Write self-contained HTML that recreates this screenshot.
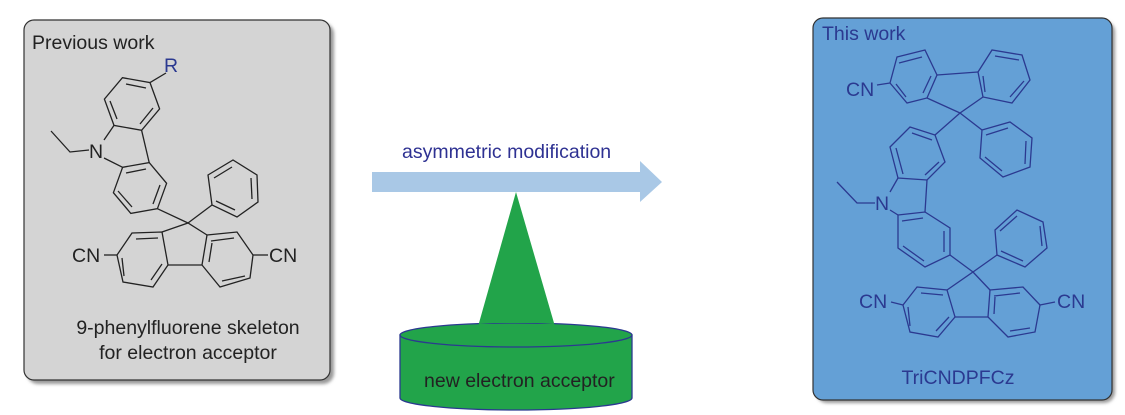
<!DOCTYPE html>
<html><head><meta charset="utf-8"><style>
html,body{margin:0;padding:0;background:#fff;width:1125px;height:415px;overflow:hidden}
svg{display:block}
text{font-family:"Liberation Sans",sans-serif}
</style></head><body>
<svg width="1125" height="415" viewBox="0 0 1125 415">
<defs><filter id="sh"><feGaussianBlur stdDeviation="1.5"/></filter></defs>
<!-- left box -->
<rect x="27" y="23" width="307" height="361" rx="11" fill="#999" filter="url(#sh)"/>
<rect x="24" y="20" width="306" height="360" rx="10" fill="#d4d4d4" stroke="#333" stroke-width="1.2"/>
<text x="32" y="49" font-size="19.5" fill="#222">Previous work</text>
<g fill="none" stroke="#222" stroke-width="1.3">
<polygon points="122.4,77.7 150,82.6 159.6,108.9 141.6,130.3 114,125.4 104.4,99.1"/>
<line x1="126" y1="84" x2="146" y2="88"/><line x1="153" y1="108" x2="140" y2="124"/><line x1="110" y1="101" x2="117" y2="119"/>
<line x1="150" y1="82.6" x2="166" y2="73"/>
<polyline points="114,125.4 104,140"/><polyline points="104,158 122.6,167.3"/>
<line x1="141.6" y1="130.3" x2="149.2" y2="162.6"/>
<polygon points="122.6,167.3 149.2,162.6 166.6,183.3 157.4,208.7 130.8,213.4 113.4,192.7"/>
<line x1="126" y1="173" x2="146" y2="169"/><line x1="160" y1="185" x2="153" y2="204"/><line x1="132" y1="207" x2="118" y2="191"/>
<polyline points="89,150 70,152 51,131"/>
<line x1="157.4" y1="208.7" x2="188" y2="223"/>
<polygon points="208,175 233,160 257,175 258,202 237,217 212,205"/>
<line x1="214" y1="178" x2="232" y2="167"/><line x1="251" y1="178" x2="252" y2="199"/><line x1="235" y1="210" x2="216" y2="201"/>
<line x1="188" y1="223" x2="212" y2="205"/>
<polygon points="132,233 162,232 168,265 153,287 123,282 117,255"/>
<line x1="136" y1="239" x2="158" y2="238"/><line x1="162" y1="264" x2="151" y2="280"/><line x1="124" y1="276" x2="122" y2="258"/>
<polygon points="207,235 237,232 253,255 250,278 220,287 202,265"/>
<line x1="211" y1="241" x2="234" y2="238"/><line x1="245" y1="276" x2="222" y2="281"/><line x1="209" y1="262" x2="212" y2="243"/>
<polyline points="162,232 188,223 207,235"/><line x1="168" y1="265" x2="202" y2="265"/>
<line x1="117" y1="255" x2="104" y2="255"/><line x1="253" y1="255" x2="268" y2="255"/>
</g>
<text x="164" y="72" font-size="19.5" fill="#2b3990">R</text>
<text x="89" y="158" font-size="19.5" fill="#222">N</text>
<text x="72" y="262" font-size="19.5" fill="#222">CN</text>
<text x="269" y="262" font-size="19.5" fill="#222">CN</text>
<text x="188" y="334" font-size="19.5" fill="#222" text-anchor="middle">9-phenylfluorene skeleton</text>
<text x="188" y="359" font-size="19.5" fill="#222" text-anchor="middle">for electron acceptor</text>

<!-- middle -->
<text x="402" y="158" font-size="19.5" fill="#2e3192">asymmetric modification</text>
<polygon points="372,172 640,172 640,161 662,182 640,202 640,192 372,192" fill="#a9c8e6"/>
<path d="M400,335 L400,398 A116,12 0 0 0 632,398 L632,335 Z" fill="#22a44a" stroke="#2b3990" stroke-width="1.3"/>
<ellipse cx="516" cy="335" rx="116" ry="12" fill="#22a44a" stroke="#2b3990" stroke-width="1.3"/>
<polygon points="516,192 479,323 554,323" fill="#22a44a"/>
<path d="M479,323 Q516,326 554,323 L557,335 L476,335 Z" fill="#22a44a"/>
<text x="424" y="387" font-size="19.5" fill="#222">new electron acceptor</text>

<!-- right box -->
<rect x="816" y="21" width="299" height="382" rx="11" fill="#999" filter="url(#sh)"/>
<rect x="813" y="18" width="299" height="382" rx="10" fill="#64a0d6" stroke="#333" stroke-width="1.2"/>
<text x="822" y="40" font-size="19.5" fill="#2b3990">This work</text>
<g fill="none" stroke="#2b3990" stroke-width="1.3">
<polygon points="897,57 925,50 937,75 927,98 907,103 890,83"/>
<line x1="899" y1="63" x2="922" y2="57"/><line x1="931" y1="76" x2="923" y2="93"/><line x1="896" y1="84" x2="906" y2="97"/>
<polygon points="978,72 992,50 1022,55 1030,80 1012,103 983,97"/>
<line x1="995" y1="56" x2="1019" y2="60"/><line x1="1024" y1="81" x2="1010" y2="97"/><line x1="985" y1="92" x2="983" y2="76"/>
<line x1="937" y1="75" x2="978" y2="72"/><polyline points="927,98 960,113 983,97"/>
<line x1="890" y1="83" x2="877" y2="85"/>
<polygon points="982,130 1010,122 1032,138 1030,167 1003,177 980,158"/>
<line x1="986" y1="135" x2="1008" y2="128"/><line x1="1026" y1="141" x2="1025" y2="164"/><line x1="1002" y1="171" x2="985" y2="157"/>
<line x1="960" y1="113" x2="982" y2="130"/><line x1="960" y1="113" x2="935" y2="135"/>
<polygon points="910,127 935,135 945,162 927,180 898,178 890,147"/>
<line x1="912" y1="133" x2="932" y2="140"/><line x1="939" y1="162" x2="925" y2="175"/><line x1="896" y1="148" x2="903" y2="174"/>
<line x1="898" y1="178" x2="890" y2="192"/><line x1="890" y1="210" x2="898" y2="215"/><line x1="927" y1="180" x2="925" y2="212"/>
<polyline points="875,203 857,203 837,182"/>
<polygon points="898,215 925,212 950,228 950,255 925,267 898,248"/>
<line x1="902" y1="221" x2="923" y2="218"/><line x1="944" y1="231" x2="944" y2="252"/><line x1="924" y1="261" x2="903" y2="246"/>
<line x1="950" y1="255" x2="973" y2="272"/>
<polygon points="995,230 1017,210 1043,222 1047,248 1025,267 997,255"/>
<line x1="1000" y1="231" x2="1017" y2="216"/><line x1="1040" y1="226" x2="1042" y2="246"/><line x1="1023" y1="261" x2="1001" y2="251"/>
<line x1="973" y1="272" x2="997" y2="255"/>
<polygon points="917,287 947,290 955,317 938,337 910,332 903,305"/>
<line x1="921" y1="293" x2="943" y2="295"/><line x1="949" y1="317" x2="936" y2="331"/><line x1="910" y1="326" x2="908" y2="307"/>
<polygon points="990,290 1023,287 1040,305 1035,332 1008,337 988,317"/>
<line x1="994" y1="296" x2="1020" y2="293"/><line x1="1030" y1="328" x2="1010" y2="331"/><line x1="994" y1="314" x2="995" y2="297"/>
<polyline points="947,290 973,272 990,290"/><line x1="955" y1="317" x2="988" y2="317"/>
<line x1="903" y1="305" x2="891" y2="302"/><line x1="1040" y1="305" x2="1055" y2="302"/>
</g>
<text x="846" y="96" font-size="19.5" fill="#2b3990">CN</text>
<text x="875" y="210" font-size="19.5" fill="#2b3990">N</text>
<text x="859" y="308" font-size="19.5" fill="#2b3990">CN</text>
<text x="1057" y="308" font-size="19.5" fill="#2b3990">CN</text>
<text x="958" y="384" font-size="19.5" fill="#2b3990" text-anchor="middle">TriCNDPFCz</text>
</svg>
</body></html>
